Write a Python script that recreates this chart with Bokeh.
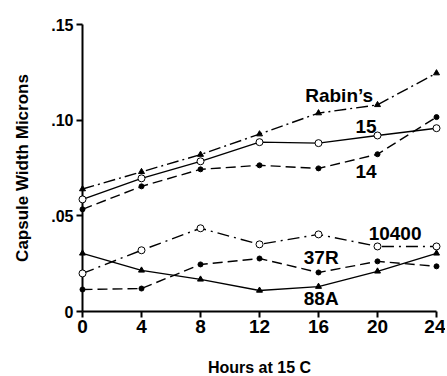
from bokeh.plotting import figure
from bokeh.models import FixedTicker, Range1d
from bokeh.core.properties import value
from bokeh.embed import file_html
from bokeh.resources import INLINE

hours = [0, 4, 8, 12, 16, 20, 24]
rabins = [0.064, 0.073, 0.082, 0.0927, 0.1037, 0.108, 0.1246]
s15 = [0.0586, 0.0696, 0.0785, 0.0885, 0.088, 0.092, 0.0958]
s14 = [0.0534, 0.0654, 0.0743, 0.0764, 0.0748, 0.0822, 0.1016]
s10400 = [0.0199, 0.032, 0.0435, 0.0351, 0.0403, 0.034, 0.034]
s37r = [0.0115, 0.012, 0.0246, 0.0277, 0.0204, 0.0262, 0.0236]
s88a = [0.0304, 0.0215, 0.0168, 0.011, 0.013, 0.021, 0.0304]

y_ticks = [0, 0.05, 0.10, 0.15]
y_tick_labels = ["0", ".05", ".10", ".15"]
x_ticks = [0, 4, 8, 12, 16, 20, 24]

label_names = ["Rabin\u2019s", "15", "14", "10400", "37R", "88A"]
label_x = [15.1, 18.5, 18.5, 19.4, 15.0, 15.0]
label_y = [0.1127, 0.0967, 0.0732, 0.0408, 0.0282, 0.0068]

x_title = "Hours at 15 C"
y_title = "Capsule Width Microns"

FONT = "Liberation Sans"

p = figure(frame_width=354, frame_height=287, output_backend="svg", toolbar_location=None,
           x_range=Range1d(0, 24), y_range=Range1d(0, 0.15),
           min_border_left=82, min_border_right=9, min_border_top=24,
           min_border_bottom=63)
p.outline_line_color = None
p.grid.visible = False
p.background_fill_color = "white"

series = [
    (rabins, "12 4 2 4", "triangle"),
    (s15, "solid", "circle"),
    (s14, "10 5", "dot"),
    (s10400, "12 5 2 5", "circle"),
    (s37r, "10 5", "dot"),
    (s88a, "solid", "triangle"),
]
for ys, dash, marker in series:
    r = p.line(hours, ys, line_color="black", line_width=1.4, line_dash=dash)
    r.level = "overlay"
    if marker == "triangle":
        m = p.scatter(hours, ys, marker="triangle", size=6, fill_color="black", line_color="black")
    elif marker == "circle":
        m = p.scatter(hours, ys, marker="circle", size=7, fill_color="white", line_color="black", line_width=1)
    else:
        m = p.scatter(hours, ys, marker="circle", size=5, fill_color="black", line_color="black")
    m.level = "overlay"

for name, lx, ly in zip(label_names, label_x, label_y):
    t = p.text(x=[lx], y=[ly], text=[name], text_align="left", text_baseline="middle",
               text_font=value(FONT), text_font_style="bold", text_font_size="19px",
               text_color="black")
    t.level = "overlay"

xa = p.xaxis[0]
xa.ticker = FixedTicker(ticks=x_ticks)
xa.axis_line_width = 2
xa.axis_line_color = "black"
xa.major_tick_line_width = 2
xa.major_tick_line_color = "black"
xa.major_tick_out = 6
xa.major_tick_in = 0
xa.minor_tick_line_color = None
xa.major_label_standoff = 2
xa.major_label_text_font = FONT
xa.major_label_text_font_style = "bold"
xa.major_label_text_font_size = "19px"
xa.major_label_text_color = "black"
xa.axis_label = x_title
xa.axis_label_standoff = 23
xa.axis_label_text_font = FONT
xa.axis_label_text_font_style = "bold"
xa.axis_label_text_font_size = "16px"
xa.axis_label_text_color = "black"

ya = p.yaxis[0]
ya.ticker = FixedTicker(ticks=y_ticks)
ya.major_label_overrides = {t: l for t, l in zip(y_ticks, y_tick_labels)}
ya.axis_line_width = 2
ya.axis_line_color = "black"
ya.major_tick_line_width = 2
ya.major_tick_line_color = "black"
ya.major_tick_out = 6
ya.major_tick_in = 0
ya.minor_tick_line_color = None
ya.major_label_standoff = 3
ya.major_label_text_font = FONT
ya.major_label_text_font_style = "bold"
ya.major_label_text_font_size = "16px"
ya.major_label_text_color = "black"
ya.axis_label = y_title
ya.axis_label_standoff = 16
ya.axis_label_text_font = FONT
ya.axis_label_text_font_style = "bold"
ya.axis_label_text_font_size = "17px"
ya.axis_label_text_color = "black"

open("out.html", "w").write(file_html(p, INLINE))
